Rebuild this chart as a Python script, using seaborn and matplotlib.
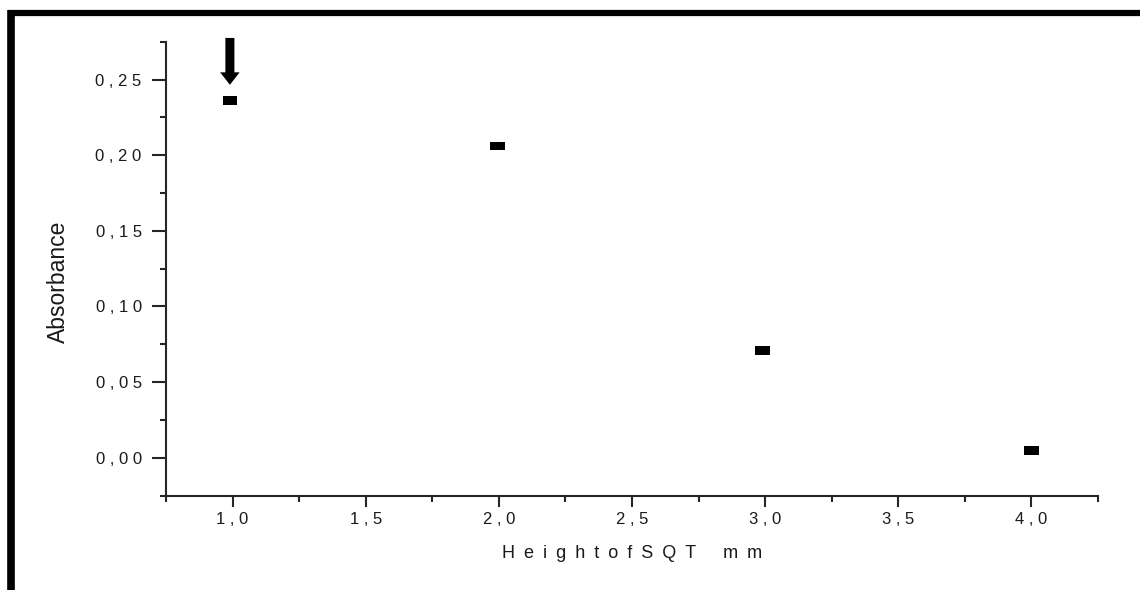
import matplotlib
matplotlib.use("Agg")
import matplotlib.pyplot as plt
import seaborn as sns
import pandas as pd
from matplotlib.path import Path
from matplotlib.lines import Line2D
from matplotlib.ticker import MultipleLocator, FuncFormatter

# data
height_mm = [0.99, 1.995, 2.99, 4.0]
absorbance = [0.236, 0.206, 0.071, 0.005]
x_ticks = [1.0, 1.5, 2.0, 2.5, 3.0, 3.5, 4.0]
y_ticks = [0.00, 0.05, 0.10, 0.15, 0.20, 0.25]
arrow_x = 0.99
arrow_from = 0.2775
arrow_to = 0.2465

df = pd.DataFrame({"height": height_mm, "absorbance": absorbance})

sns.set_style("ticks")
plt.rcParams["font.family"] = ["Liberation Sans", "DejaVu Sans"]

fig = plt.figure(figsize=(11.4, 5.9), dpi=100)
ax = fig.add_axes([0.1456, 0.16, 0.8175, 0.7693])

# flat rectangle marker like the original
rect = Path([(-1, -0.6), (1, -0.6), (1, 0.6), (-1, 0.6), (-1, -0.6)],
            [Path.MOVETO, Path.LINETO, Path.LINETO, Path.LINETO, Path.CLOSEPOLY])
sns.scatterplot(data=df, x="height", y="absorbance", ax=ax, marker=rect,
                s=110, color="black", edgecolor="none", linewidth=0, legend=False)

ax.set_xlim(0.75, 4.25)
ax.set_ylim(-0.025, 0.275)
ax.set_xticks(x_ticks)
ax.set_yticks(y_ticks)
ax.xaxis.set_minor_locator(MultipleLocator(0.25))
ax.yaxis.set_minor_locator(MultipleLocator(0.025))

# spaced out, comma decimals
def spaced(fmt):
    return FuncFormatter(lambda v, p: " ".join(fmt.format(v).replace(".", ",")))

ax.xaxis.set_major_formatter(spaced("{:.1f}"))
ax.yaxis.set_major_formatter(spaced("{:.2f}"))

sns.despine(ax=ax)
for s in ["left", "bottom"]:
    ax.spines[s].set_linewidth(1.5)
ax.tick_params(axis="x", which="major", length=8, width=1.5, pad=4,
               labelsize=12, labelcolor="#1a1a1a")
ax.tick_params(axis="y", which="major", length=10, width=1.5, pad=7.5,
               labelsize=12, labelcolor="#1a1a1a")
ax.tick_params(which="minor", length=4.5, width=1.5)

ax.set_xlabel("H\u2002e\u2002i\u2002g\u2002h\u2002t\u2002o\u2002f\u2002S\u2002Q\u2002T\u2002\u2002\u2002m\u2002m",
              fontsize=13, color="#1a1a1a", labelpad=13)
ax.set_ylabel("Absorbance", fontsize=16.5, color="#1a1a1a",
              family=["Liberation Sans Narrow", "Liberation Sans", "DejaVu Sans"])
ax.yaxis.set_label_coords(-0.103, 0.47)

ax.annotate("", xy=(arrow_x, arrow_to), xytext=(arrow_x, arrow_from),
            annotation_clip=False,
            arrowprops=dict(facecolor="black", edgecolor="none", width=6.5,
                            headwidth=14, headlength=9, shrink=0))

# frame lines on top and left edge of the picture
fig.add_artist(Line2D([0.007, 1.0], [0.978, 0.978], transform=fig.transFigure,
                      color="black", linewidth=4.5, solid_capstyle="butt"))
fig.add_artist(Line2D([0.0097, 0.0097], [0.0, 0.983], transform=fig.transFigure,
                      color="black", linewidth=5.5, solid_capstyle="butt"))

fig.savefig("out.png", dpi=100)
